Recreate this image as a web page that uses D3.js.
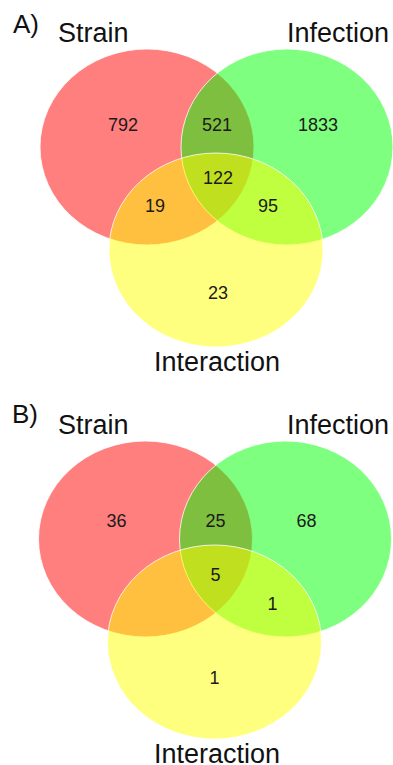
<!DOCTYPE html>
<html>
<head>
<meta charset="utf-8">
<script src="https://cdn.jsdelivr.net/npm/d3@7"></script>
<style>
  html, body { margin: 0; padding: 0; background: #ffffff; }
  svg { display: block; }
</style>
</head>
<body>
<div id="chart"></div>
<script>
// ---------- data ----------
const setNames = ["Strain", "Infection", "Interaction"];
const setColors = ["#ff0000", "#00ff00", "#ffff00"];
const panelTitles = ["A)", "B)"];
const regionKeys = ["S", "SI", "I", "SIX", "SX", "IX", "X"];
const countsA = [792, 521, 1833, 122, 19, 95, 23];
const countsB = [36, 25, 68, 5, null, 1, 1];
const panelCounts = [countsA, countsB];

// ---------- layout (unit coordinates, mapped through scales) ----------
const W = 393, H = 765;
const panelTop = [0, 392];
const panelDx = [0, -1.5];
// ellipse geometry in panel-local pixel units
const ellipses = [
  { cx: 147, cy: 147, rx: 107, ry: 98 },
  { cx: 287, cy: 147, rx: 106, ry: 98 },
  { cx: 216, cy: 250, rx: 107, ry: 97 }
];
// region label anchors (panel-local), per panel
const labelPos = [
  { S: [123, 124], SI: [217, 124], I: [318, 124], SIX: [218, 177], SX: [155, 205], IX: [268, 205], X: [218, 292] },
  { S: [118, 128], SI: [217, 128], I: [308, 128], SIX: [217, 182], SX: [155, 205], IX: [274, 211], X: [216, 285] }
];
const setLabelPos = [
  [{ x: 58, y: 42, anchor: "start" }, { x: 287, y: 42, anchor: "start" }, { x: 217, y: 371, anchor: "middle" }],
  [{ x: 58, y: 42, anchor: "start" }, { x: 287, y: 42, anchor: "start" }, { x: 217, y: 371, anchor: "middle" }]
];
const titlePos = [{ x: 13, y: 33 }, { x: 12, y: 31 }];

const svg = d3.select("#chart").append("svg")
  .attr("width", W).attr("height", H);

const font = "Arial, 'Liberation Sans', sans-serif";

panelCounts.forEach((counts, p) => {
  const sx = d3.scaleLinear().domain([0, W]).range([panelDx[p], W + panelDx[p]]);
  const sy = d3.scaleLinear().domain([0, H]).range([panelTop[p], H + panelTop[p]]);
  const g = svg.append("g");

  g.selectAll("ellipse").data(ellipses).join("ellipse")
    .attr("cx", d => sx(d.cx))
    .attr("cy", d => sy(d.cy))
    .attr("rx", d => d.rx)
    .attr("ry", d => d.ry)
    .attr("fill", (d, i) => setColors[i])
    .attr("fill-opacity", 0.5)
    .attr("stroke", "#ffffff")
    .attr("stroke-opacity", 0.8)
    .attr("stroke-width", 1);

  g.selectAll("text.count").data(regionKeys.map((k, i) => ({ k, v: counts[i] })).filter(d => d.v !== null))
    .join("text").attr("class", "count")
    .attr("x", d => sx(labelPos[p][d.k][0]))
    .attr("y", d => sy(labelPos[p][d.k][1]) + 6.5)
    .attr("text-anchor", "middle")
    .attr("font-family", font)
    .attr("font-size", 18)
    .attr("fill", "#1a1a1a")
    .text(d => d.v);

  g.selectAll("text.set").data(setNames).join("text").attr("class", "set")
    .attr("x", (d, i) => sx(setLabelPos[p][i].x) - panelDx[p])
    .attr("y", (d, i) => sy(setLabelPos[p][i].y))
    .attr("text-anchor", (d, i) => setLabelPos[p][i].anchor)
    .attr("font-family", font)
    .attr("font-size", 27)
    .attr("fill", "#111")
    .text(d => d);

  g.append("text")
    .attr("x", titlePos[p].x)
    .attr("y", sy(titlePos[p].y))
    .attr("font-family", font)
    .attr("font-size", 26)
    .attr("fill", "#111")
    .text(panelTitles[p]);
});
</script>
</body>
</html>
